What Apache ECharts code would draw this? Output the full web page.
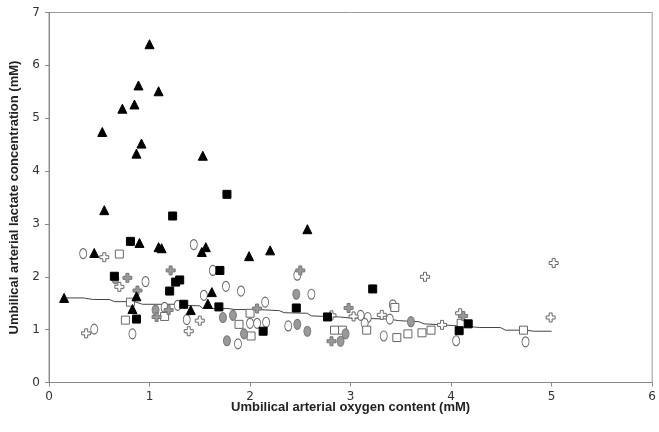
<!DOCTYPE html>
<html>
<head>
<meta charset="utf-8">
<script src="https://cdn.jsdelivr.net/npm/echarts@6/dist/echarts.min.js"></script>
<style>
  html, body { margin: 0; padding: 0; background: #fff; }
  #box { width: 659px; height: 432px; }
</style>
</head>
<body>
<div id="box"></div>
<script>
// data: [oxygen content, lactate]
var triangles = [[1.0,6.4],[0.89,5.62],[1.09,5.51],[0.73,5.18],[0.85,5.26],[0.53,4.74],[0.87,4.33],[0.92,4.52],[1.53,4.29],[0.55,3.26],
  [2.57,2.9],[2.2,2.5],[1.99,2.39],[0.9,2.64],[0.45,2.45],[1.09,2.56],[1.12,2.54],[1.52,2.47],[1.56,2.56],[0.15,1.6],
  [0.87,1.63],[0.83,1.39],[1.41,1.37],[1.62,1.71],[1.58,1.49]];
var blackSquares = [[1.23,3.15],[1.77,3.56],[0.81,2.67],[0.65,2.01],[1.7,2.12],[1.26,1.9],[1.3,1.94],[1.2,1.73],[1.34,1.48],[0.87,1.2],
  [1.69,1.43],[2.46,1.41],[2.13,0.97],[2.77,1.24],[3.22,1.77],[4.08,0.98],[4.17,1.11]];
var openSquares = [[0.7,2.43],[0.81,1.52],[0.76,1.18],[1.15,1.25],[2.0,1.31],[1.89,1.1],[2.01,0.88],[2.84,0.99],[2.92,0.99],[3.16,0.99],
  [3.46,0.85],[3.57,0.92],[3.71,0.94],[3.8,0.99],[3.44,1.42],[4.72,0.99],[4.1,1.12]];
var openOvals = [[0.34,2.44],[0.45,1.01],[0.83,0.92],[0.96,1.91],[1.44,2.61],[1.63,2.12],[1.76,1.82],[1.91,1.73],[1.37,1.19],[1.54,1.65],
  [1.88,0.73],[1.15,1.42],[1.28,1.46],[2.0,1.12],[2.07,1.12],[2.16,1.14],[2.47,2.03],[2.15,1.52],[2.61,1.67],[2.38,1.07],
  [3.1,1.27],[3.17,1.23],[3.14,1.12],[3.33,0.88],[3.39,1.2],[3.42,1.47],[4.05,0.79],[4.74,0.77]];
var grayOvals = [[0.66,1.96],[1.06,1.37],[1.73,1.23],[1.83,1.27],[1.77,0.79],[1.94,0.92],[2.46,1.67],[2.47,1.1],[2.57,0.97],[3.6,1.15],
  [2.9,0.78],[2.95,0.92]];
var grayCrosses = [[0.78,1.98],[1.21,2.12],[1.07,1.24],[1.19,1.37],[0.88,1.74],[2.5,2.12],[2.07,1.4],[2.98,1.41],[4.12,1.26],[2.81,0.78]];
var openCrosses = [[0.55,2.37],[0.7,1.81],[0.37,0.93],[1.5,1.17],[1.39,0.97],[3.74,2.0],[3.31,1.28],[3.03,1.25],[2.81,1.27],[3.91,1.09],
  [5.02,2.26],[4.99,1.23],[4.09,1.31]];
// fitted curve
var lineX = [0.14,0.34,0.44,0.6,0.65,0.85,0.93,1.26,1.3,1.5,1.53,1.78,1.85,2.07,2.29,2.34,2.57,2.61,2.89,3.0,3.38,3.48,3.68,3.73,4.0,4.23,4.28,4.49,4.54,4.75,4.82,5.0];
var lineY = [1.6,1.6,1.57,1.57,1.53,1.53,1.48,1.48,1.46,1.45,1.4,1.4,1.38,1.38,1.36,1.32,1.31,1.26,1.24,1.22,1.2,1.17,1.15,1.11,1.08,1.05,1.04,1.04,0.99,0.99,0.97,0.97];

var crossPath = 'path://M3,0 H6 V3 H9 V6 H6 V9 H3 V6 H0 V3 H3 Z';

var myChart = echarts.init(document.getElementById('box'));
var axisText = { fontFamily: 'DejaVu Sans', fontSize: 12, color: '#333' };
var nameText = { fontFamily: 'Liberation Sans', fontSize: 13, fontWeight: 'bold', color: '#222' };

function pts(name, data, symbol, size, fill, border) {
    return {
        name: name,
        type: 'scatter',
        data: data,
        symbol: symbol,
        symbolSize: size,
        itemStyle: { color: fill, borderColor: border, borderWidth: 1, opacity: 1 },
        z: 3
    };
}

var option = {
    animation: false,
    grid: { left: 45, right: 2, top: 12.5, bottom: 49.5, show: true, borderColor: '#999', borderWidth: 1 },
    xAxis: {
        type: 'value', min: 0, max: 6, interval: 1,
        name: 'Umbilical arterial oxygen content (mM)', nameLocation: 'middle', nameGap: 18,
        nameMoveOverlap: false,
        nameTextStyle: nameText,
        axisLine: { lineStyle: { color: '#888' } },
        axisTick: { show: true, length: 4, lineStyle: { color: '#888' } },
        axisLabel: Object.assign({ margin: 8 }, axisText),
        splitLine: { show: false }
    },
    yAxis: {
        type: 'value', min: 0, max: 7, interval: 1,
        name: 'Umbilical arterial lactate concentration (mM)', nameLocation: 'middle', nameGap: 28,
        nameTextStyle: nameText,
        axisLine: { show: true, lineStyle: { color: '#888' } },
        axisTick: { show: true, length: 4, lineStyle: { color: '#888' } },
        axisLabel: Object.assign({ margin: 9 }, axisText),
        splitLine: { show: false }
    },
    series: [
        {
            type: 'line',
            data: lineX.map(function (x, i) { return [x, lineY[i]]; }),
            symbol: 'none',
            lineStyle: { color: '#444', width: 1 },
            z: 2
        },
        pts('open ovals', openOvals, 'circle', [7, 10], '#fff', '#666'),
        pts('open squares', openSquares, 'rect', 8, '#fff', '#666'),
        pts('open crosses', openCrosses, crossPath, 9, '#fff', '#666'),
        pts('gray ovals', grayOvals, 'circle', [7, 10], '#999', '#777'),
        pts('gray crosses', grayCrosses, crossPath, 9, '#999', '#777'),
        pts('black squares', blackSquares, 'rect', 8, '#000', '#000'),
        pts('triangles', triangles, 'triangle', 9, '#000', '#000')
    ]
};
myChart.setOption(option);
</script>
</body>
</html>
